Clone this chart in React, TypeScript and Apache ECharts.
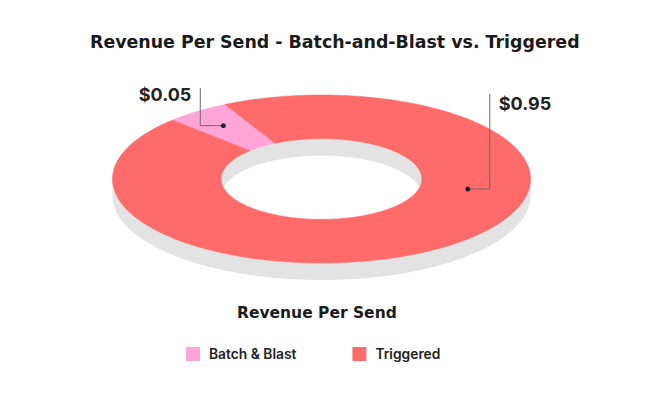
import React, { useEffect, useRef } from "react";
import * as echarts from "echarts";

const CATEGORIES = ["Batch & Blast", "Triggered"];
const VALUES = [0.05, 0.95];
const LABELS = ["$0.05", "$0.95"];
const COLORS = ["#ffa5d8", "#ff6b6b"];
const TITLE = "Revenue Per Send - Batch-and-Blast vs. Triggered";
const SUBTITLE = "Revenue Per Send";

// layout of the tilted donut
const G = { cx: 321.5, cy: 179, rx: 209, ry: 84, inner: 0.48, depth: 17, startAngle: 135.5 };
const LABEL_LAYOUT = [
  { anchorAngle: null as number | null, anchorR: 0.79, side: -1, arm: 23, topY: 88, textDy: 6 },
  { anchorAngle: -9.7 as number | null, anchorR: 0.71, side: 1, arm: 22, topY: 94, textDy: 9 },
];
const FONT = "Inter, 'Open Sans', sans-serif";
const HEAD_FONT = "'DejaVu Sans', Inter, sans-serif";

function proj(theta: number, f: number, dy = 0): number[] {
  const r = (theta * Math.PI) / 180;
  return [G.cx + f * G.rx * Math.cos(r), G.cy + dy - f * G.ry * Math.sin(r)];
}

function sliceSeries(i: number) {
  return {
    type: "custom",
    name: CATEGORIES[i],
    coordinateSystem: "none",
    z: 2,
    itemStyle: { color: COLORS[i] },
    data: [VALUES[i]],
    renderItem: (params: any, api: any) => {
      const total = VALUES.reduce((a, b) => a + b, 0);
      const before = VALUES.slice(0, i).reduce((a, b) => a + b, 0);
      const v = api.value(0);
      const a0 = G.startAngle - (360 * before) / total;
      const a1 = a0 - (360 * v) / total;
      const pts: number[][] = [];
      const steps = Math.max(4, Math.ceil(Math.abs(a0 - a1)));
      for (let k = 0; k <= steps; k++) pts.push(proj(a0 + ((a1 - a0) * k) / steps, 1));
      for (let k = steps; k >= 0; k--) pts.push(proj(a0 + ((a1 - a0) * k) / steps, G.inner));
      const L = LABEL_LAYOUT[i];
      const ang = L.anchorAngle == null ? (a0 + a1) / 2 : L.anchorAngle;
      const dot = proj(ang, L.anchorR);
      const elbowX = dot[0] + L.side * L.arm;
      return {
        type: "group",
        children: [
          { type: "polygon", z2: 10, shape: { points: pts }, style: { fill: COLORS[i], stroke: COLORS[i], lineWidth: 0.5 } },
          {
            type: "polyline",
            z2: 100,
            shape: { points: [dot, [elbowX, dot[1]], [elbowX, L.topY]] },
            style: { stroke: "#6b6b6b", lineWidth: 1, fill: null },
          },
          { type: "circle", z2: 101, shape: { cx: dot[0], cy: dot[1], r: 2.5 }, style: { fill: "#1e1e2a" } },
          {
            type: "text",
            z2: 102,
            style: {
              text: LABELS[i],
              x: elbowX + L.side * 9,
              y: L.topY + L.textDy,
              align: L.side < 0 ? "right" : "left",
              verticalAlign: "middle",
              fill: "#222222",
              font: `bold 18px ${FONT}`,
            },
          },
        ],
      };
    },
  };
}

const baseSeries = {
  type: "custom",
  name: "base",
  coordinateSystem: "none",
  z: 1,
  silent: true,
  data: [0],
  renderItem: () => {
    const body: number[][] = [];
    for (let a = 0; a <= 180; a += 2) body.push(proj(a, 1));
    for (let a = 180; a <= 360; a += 2) body.push(proj(a, 1, G.depth));
    const hole: number[][] = [];
    for (let a = 0; a < 360; a += 2) hole.push(proj(a, G.inner, G.depth));
    return {
      type: "group",
      children: [
        { type: "polygon", shape: { points: body }, style: { fill: "#e3e3e3" } },
        { type: "polygon", z2: 2, shape: { points: hole }, style: { fill: "#ffffff" } },
      ],
    };
  },
};

export default function App() {
  const ref = useRef<HTMLDivElement>(null);
  useEffect(() => {
    if (!ref.current) return;
    const chart = echarts.init(ref.current, null, { renderer: "svg" });
    chart.setOption({
      animation: false,
      backgroundColor: "#ffffff",
      title: [
        {
          text: TITLE,
          left: 90,
          top: 30,
          padding: 0,
          textStyle: { fontFamily: HEAD_FONT, fontSize: 17.4, fontWeight: "bold", color: "#1a1a1a", lineHeight: 24 },
        },
        {
          text: SUBTITLE,
          left: 237,
          top: 301,
          padding: 0,
          textStyle: { fontFamily: HEAD_FONT, fontSize: 15.5, fontWeight: "bold", color: "#1a1a1a", lineHeight: 24 },
        },
      ],
      legend: {
        data: CATEGORIES,
        left: 186,
        top: 347,
        padding: 0,
        icon: "rect",
        itemWidth: 14,
        itemHeight: 14,
        itemGap: 56,
        textStyle: { fontFamily: FONT, fontSize: 13.8, fontWeight: 600, color: "#222222", padding: [0, 0, 0, 4] },
        selectedMode: false,
      },
      series: [baseSeries, sliceSeries(0), sliceSeries(1)],
    });
    return () => chart.dispose();
  }, []);
  return <div ref={ref} style={{ width: 650, height: 394, margin: -8 }} />;
}
